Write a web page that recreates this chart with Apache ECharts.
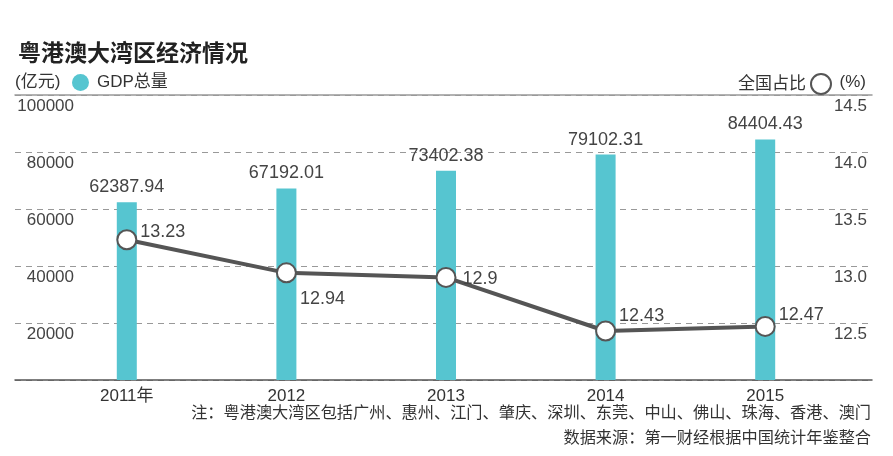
<!DOCTYPE html>
<html><head><meta charset="utf-8">
<script src="https://cdn.jsdelivr.net/npm/echarts@6/dist/echarts.min.js"></script>
<style>html,body{margin:0;padding:0;background:#fff}#c{width:893px;height:456px}</style>
</head><body><div id="c"></div>
<script>
const categories = ['2011年', '2012', '2013', '2014', '2015'];
const gdpValues = [62387.94, 67192.01, 73402.38, 79102.31, 84404.43];
const shareValues = [13.23, 12.94, 12.9, 12.43, 12.47];
const leftTicks = { min: 0, max: 100000, interval: 20000 };
const rightTicks = { min: 12, max: 14.5, interval: 0.5 };

const FF = '"Liberation Sans", "Noto Sans CJK SC", sans-serif';
const labelOffsets = [[0, -8], [0, 26], [3, 2], [0, -15], [0, -11]];

const chart = echarts.init(document.getElementById('c'));
chart.setOption({
  backgroundColor: '#fff',
  animation: false,
  textStyle: { fontFamily: FF },
  title: {
    text: '粤港澳大湾区经济情况', left: 13, top: 36,
    textStyle: { fontSize: 23, fontWeight: 'bold', color: '#222', fontFamily: '"Noto Sans CJK SC", sans-serif' }
  },
  legend: [
    { data: ['GDP总量'], left: 72, top: 74, padding: 0, icon: 'circle', itemWidth: 17, itemHeight: 17,
      textStyle: { fontSize: 17, color: '#333', fontFamily: FF, padding: [0, 0, 0, 3] } },
    { data: ['全国占比'], right: 61, top: 73, padding: 0, align: 'right', icon: 'circle', itemWidth: 20, itemHeight: 20,
      textStyle: { fontSize: 17, color: '#333', fontFamily: FF } }
  ],
  graphic: [
    { type: 'text', left: 15, top: 74, style: { text: '(亿元)', fontSize: 17, fill: '#333', fontFamily: FF } },
    { type: 'text', right: 27, top: 74, style: { text: '(%)', fontSize: 17, fill: '#333', fontFamily: FF } },
    { type: 'text', right: 22, top: 405, style: { text: '注：粤港澳大湾区包括广州、惠州、江门、肇庆、深圳、东莞、中山、佛山、珠海、香港、澳门', fontSize: 16.2, fill: '#333', fontFamily: FF } },
    { type: 'text', right: 22, top: 430, style: { text: '数据来源：第一财经根据中国统计年鉴整合', fontSize: 16.2, fill: '#333', fontFamily: FF } }
  ],
  grid: [
    { left: 15, right: 21, top: 95, bottom: 76 },
    { left: 47, right: 48, top: 95, bottom: 76 }
  ],
  xAxis: [
    { gridIndex: 0, type: 'value', position: 'top', min: 0, max: 1, axisLine: { show: true, onZero: false, lineStyle: { color: '#999', width: 1.5 } },
      axisTick: { show: false }, axisLabel: { show: false }, splitLine: { show: false } },
    { gridIndex: 0, type: 'value', position: 'bottom', min: 0, max: 1, axisLine: { show: true, onZero: false, lineStyle: { color: '#555', width: 1.5 } },
      axisTick: { show: false }, axisLabel: { show: false }, splitLine: { show: false } },
    { gridIndex: 1, type: 'category', data: categories, axisLine: { show: false }, axisTick: { show: false },
      axisLabel: { fontSize: 17, color: '#333', margin: 8, fontFamily: FF } }
  ],
  yAxis: [
    { gridIndex: 0, type: 'value', position: 'left', min: leftTicks.min, max: leftTicks.max, interval: leftTicks.interval,
      axisLine: { show: false }, axisTick: { show: false },
      axisLabel: { inside: true, showMinLabel: false, align: 'right', verticalAlign: 'top', margin: 59, padding: [3, 0, 0, 0], fontSize: 17, color: '#444', fontFamily: FF,
        formatter: v => String(v) },
      splitLine: { show: true, lineStyle: { color: '#999', type: [6, 5], width: 1 } } },
    { gridIndex: 0, type: 'value', position: 'right', min: rightTicks.min, max: rightTicks.max, interval: rightTicks.interval,
      axisLine: { show: false }, axisTick: { show: false },
      axisLabel: { inside: true, showMinLabel: false, align: 'right', verticalAlign: 'top', margin: 5, padding: [3, 0, 0, 0], fontSize: 17, color: '#444', fontFamily: FF,
        formatter: v => v.toFixed(1) },
      splitLine: { show: false } },
    { gridIndex: 1, type: 'value', min: leftTicks.min, max: leftTicks.max, show: false },
    { gridIndex: 1, type: 'value', min: rightTicks.min, max: rightTicks.max, show: false }
  ],
  series: [
    { name: 'GDP总量', type: 'bar', xAxisIndex: 2, yAxisIndex: 2, data: gdpValues, barWidth: 20,
      itemStyle: { color: '#56c5d0' },
      label: { show: true, position: 'top', distance: 6, fontSize: 18, color: '#444', fontFamily: FF } },
    { name: '全国占比', type: 'line', xAxisIndex: 2, yAxisIndex: 3,
      data: shareValues.map((v, i) => ({ value: v, label: { offset: labelOffsets[i] } })),
      symbol: 'circle', symbolSize: 19,
      lineStyle: { color: '#555', width: 4 },
      itemStyle: { color: '#fff', borderColor: '#555', borderWidth: 2 },
      label: { show: true, position: 'right', distance: 3, fontSize: 18, color: '#444', fontFamily: FF },
      z: 5 }
  ]
});
</script></body></html>
